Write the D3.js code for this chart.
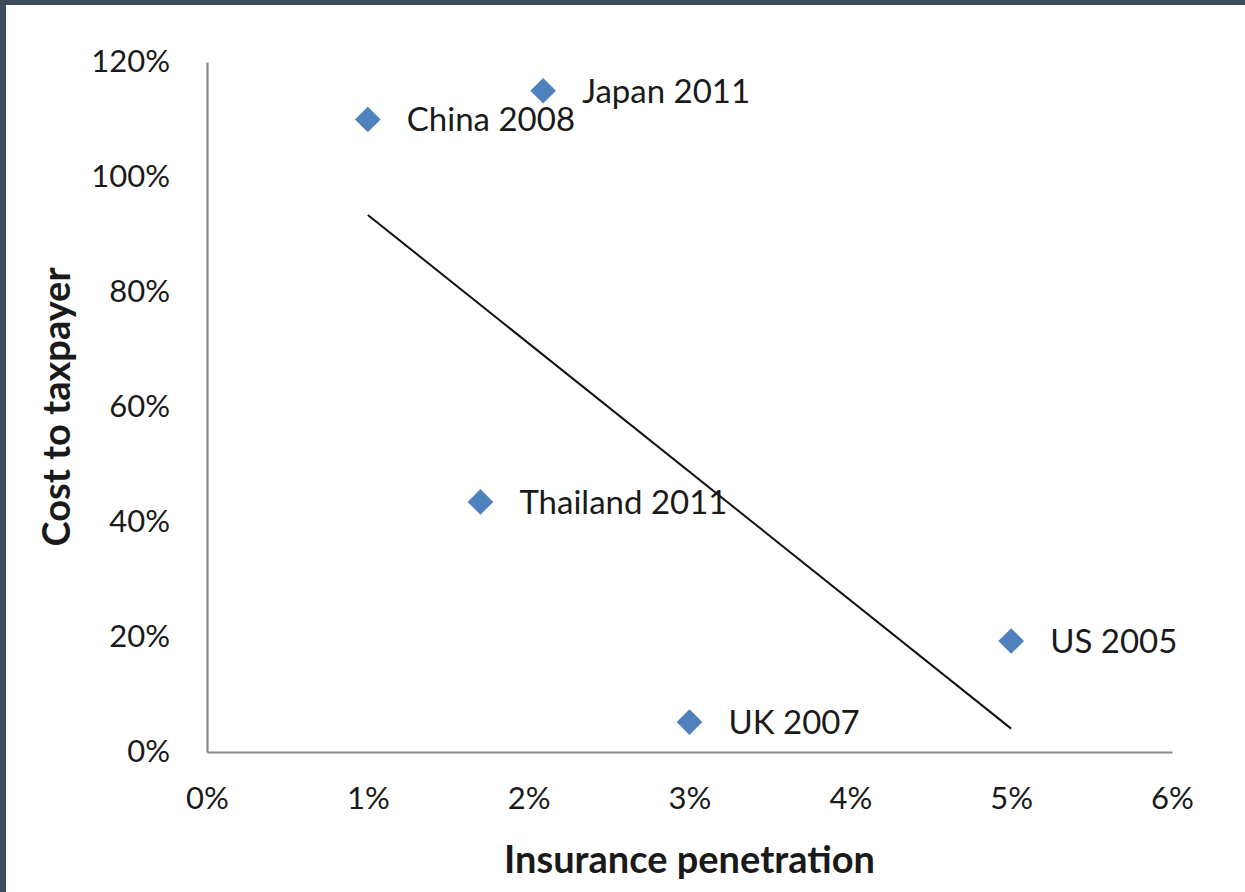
<!DOCTYPE html>
<html>
<head>
<meta charset="utf-8">
<script src="https://cdn.jsdelivr.net/npm/d3@7"></script>
<style>
  html, body { margin: 0; padding: 0; background: #ffffff; }
  svg { display: block; }
  text { font-family: Lato, "Open Sans", sans-serif; fill: #1a1a1a; }
</style>
</head>
<body>
<script>
// Disaster events: insurance penetration (share of GDP) vs share of losses borne by taxpayers
const events = ["China 2008", "Japan 2011", "Thailand 2011", "UK 2007", "US 2005"];
const penetration = [1.0, 2.09, 1.7, 3.0, 5.0];     // %
const taxpayerCost = [110, 115, 43.5, 5.2, 19.3];   // %

const xTicks = [0, 1, 2, 3, 4, 5, 6];
const yTicks = [0, 20, 40, 60, 80, 100, 120];
const xTitle = "Insurance penetration";
const yTitle = "Cost to taxpayer";

const W = 1245, H = 892;
const svg = d3.select("body").append("svg").attr("width", W).attr("height", H);

// frame
svg.append("rect").attr("x", 0).attr("y", 0).attr("width", W).attr("height", H).attr("fill", "#3f4c5b");
svg.append("rect").attr("x", 6).attr("y", 5).attr("width", W - 6).attr("height", H - 5).attr("fill", "#ffffff");

const x = d3.scaleLinear().domain([0, 6]).range([207, 1172]);
const y = d3.scaleLinear().domain([0, 120]).range([752, 62]);

// axes: plain grey lines, no tick marks
const xAxis = d3.axisBottom(x).tickValues(xTicks).tickSize(0).tickPadding(35).tickFormat(d => d + "%");
const yAxis = d3.axisLeft(y).tickValues(yTicks).tickSize(0).tickPadding(37).tickFormat(d => d + "%");

const gx = svg.append("g").attr("transform", `translate(0,${y(0)})`).call(xAxis);
const gy = svg.append("g").attr("transform", `translate(${x(0)},0)`).call(yAxis);
[gx, gy].forEach(g => {
  g.select(".domain").attr("stroke", "#888888").attr("stroke-width", 2.2);
  g.selectAll("text").attr("font-family", "Lato, sans-serif").attr("font-size", 31).attr("fill", "#1a1a1a");
});

// axis titles
svg.append("text")
  .attr("x", (x(0) + x(6)) / 2).attr("y", 873)
  .attr("text-anchor", "middle").attr("font-weight", "bold").attr("font-size", 38)
  .text(xTitle);
svg.append("text")
  .attr("transform", `translate(70,${(y(0) + y(120)) / 2}) rotate(-90)`)
  .attr("text-anchor", "middle").attr("font-weight", "bold").attr("font-size", 38)
  .text(yTitle);

// linear trend fitted to the points
const pts = events.map((e, i) => ({ name: e, px: penetration[i], py: taxpayerCost[i] }));
const mx = d3.mean(pts, d => d.px), my = d3.mean(pts, d => d.py);
const slope = d3.sum(pts, d => (d.px - mx) * (d.py - my)) / d3.sum(pts, d => (d.px - mx) ** 2);
const icpt = my - slope * mx;
const [x0, x1] = d3.extent(pts, d => d.px);
svg.append("line")
  .attr("x1", x(x0)).attr("y1", y(icpt + slope * x0))
  .attr("x2", x(x1)).attr("y2", y(icpt + slope * x1))
  .attr("stroke", "#111111").attr("stroke-width", 2);

// markers
const diamond = d3.symbol().type(d3.symbolDiamond2).size(420);
svg.append("g").selectAll("path").data(pts).join("path")
  .attr("d", diamond)
  .attr("transform", d => `translate(${x(d.px)},${y(d.py)})`)
  .attr("fill", "#4f81bd");

// point labels
svg.append("g").selectAll("text").data(pts).join("text")
  .attr("x", d => x(d.px) + 39)
  .attr("y", d => y(d.py))
  .attr("dy", "0.36em")
  .attr("font-size", 33)
  .text(d => d.name);
</script>
</body>
</html>
